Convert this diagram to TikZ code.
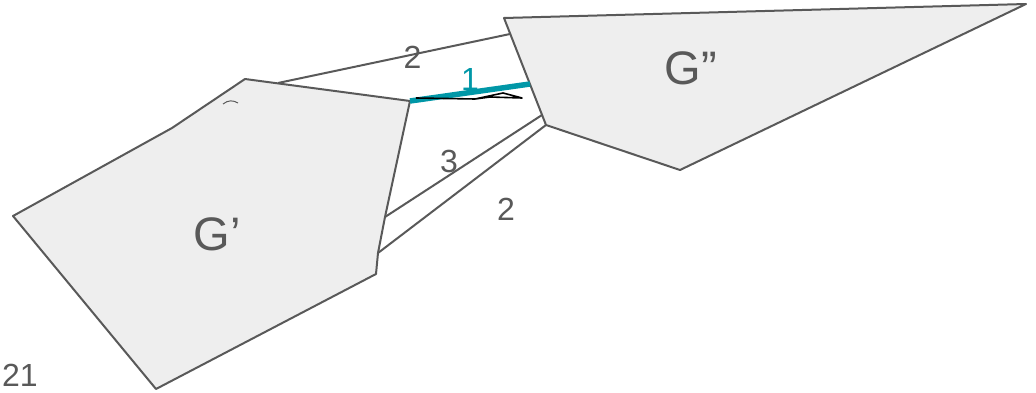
\documentclass[tikz,border=0pt]{standalone}
\usepackage{fontspec}
\setmainfont{Liberation Sans}
\usepackage{tikz}
\usetikzlibrary{positioning}
\definecolor{edgegray}{HTML}{595959}
\definecolor{partfill}{HTML}{EEEEEE}
\definecolor{cutteal}{HTML}{0097A7}

\begin{document}
\begin{tikzpicture}[x=1pt, y=-1pt,
  part/.style={draw=edgegray, fill=partfill, line width=2pt, line join=round},
  cut/.style={draw=edgegray, line width=2pt},
  mincut/.style={draw=cutteal, line width=5.5pt},
  weight/.style={text=edgegray, font=\fontsize{32}{32}\selectfont, inner sep=0pt},
  graphname/.style={text=edgegray, font=\fontsize{47}{47}\selectfont, inner sep=0pt},
  scribble/.style={draw=black, line width=1.6pt, line join=round}
]
  \useasboundingbox (0,0) rectangle (1036,393);

  % G' and its border points
  \coordinate (l1) at (245,79);
  \coordinate (l2) at (410,101);
  \coordinate (l3) at (385,217);
  \coordinate (l4) at (378,253);
  \coordinate (l5) at (376,274);
  \coordinate (l6) at (156,389);
  \coordinate (l7) at (13,216);
  \coordinate (l8) at (172,128);
  \coordinate (l9) at (278,83);
  \draw[part] (l1) -- (l2) -- (l3) -- (l4) -- (l5) -- (l6) -- (l7) -- (l8) -- cycle;

  % G''
  \coordinate (r1) at (504,18);
  \coordinate (r2) at (1026,4);
  \coordinate (r3) at (680,170);
  \coordinate (r4) at (546,125);
  \coordinate (r5) at (510,34);
  \coordinate (r6) at (530,84);
  \coordinate (r7) at (542,115);
  \draw[part] (r1) -- (r2) -- (r3) -- (r4) -- cycle;

  \node[graphname] (gl) at (217,234) {G’};
  \node[graphname] (gr) at (691,68) {G”};

  % edges between the two parts
  \draw[cut] (l9) -- node[weight, pos=0.58, yshift=-3pt] (w1) {2} (r5);
  \draw[mincut] (l2) -- (r6);
  \node[weight, text=cutteal] (w2) at (470,79) {1};
  \draw[cut] (l3) -- (r7);
  \node[weight] (w3) at (449,161) {3};
  \draw[cut] (l4) -- (r4);
  \node[weight] (w4) at (506,209) {2};

  % pen marks
  \draw[scribble] (416,98) -- (475,99) -- (503,93) -- (522,98) -- (490,97) -- (475,99);
  \draw[draw=edgegray, line width=1pt] (223,104) .. controls (228,100) and (233,100) .. (238,103);

  \node[weight, anchor=north west] (cutoff) at (2,364) {21};
\end{tikzpicture}
\end{document}
